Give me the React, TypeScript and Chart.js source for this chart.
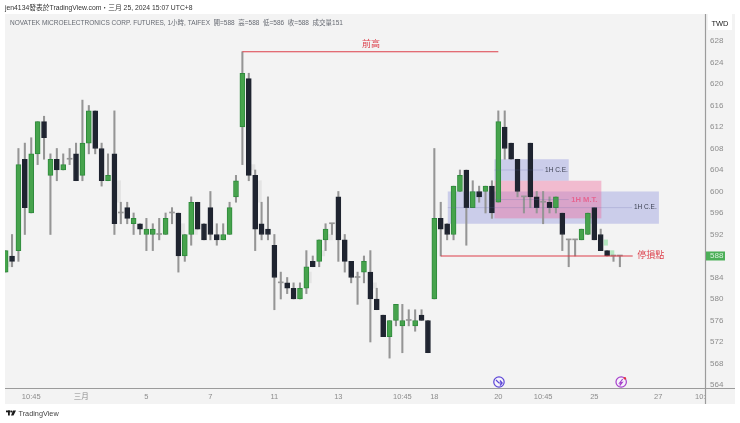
import { useEffect, useRef } from 'react';
import { Chart, registerables } from 'chart.js';

Chart.register(...registerables);

const FONT = "'Liberation Sans', 'Noto Sans CJK TC', sans-serif";

// hourly candles
const opens = [585, 588, 589, 606, 596, 607, 613, 603, 606, 604, 606, 607, 603, 609, 615, 608, 602, 607, 596, 597,
  594, 594, 592, 592, 592, 592, 596, 596, 588, 592, 598, 594, 597, 592, 591, 592, 599, 612, 621, 603,
  594, 593, 590, 583, 583, 582, 580, 582, 587, 587, 591, 594, 599, 591, 587, 584, 585, 585, 580, 577,
  573, 576, 575, 576, 575, 577, 576, 580, 595, 594, 592, 600, 604, 597, 600, 600, 601, 598, 612, 609,
  606, 599, 609, 599, 598, 598, 597, 596, 591, 591, 591, 592, 597, 592, 589, 588, 588];
const highs = [589, 592, 608, 609, 610, 613, 614, 607, 608, 607, 608, 609, 617, 616, 615, 609, 607, 615, 598, 598,
  596, 594, 595, 594, 595, 596, 597, 596, 592, 599, 598, 594, 600, 594, 594, 598, 603, 626, 622, 604,
  598, 599, 592, 585, 584, 583, 583, 589, 588, 591, 594, 594, 600, 592, 587, 585, 588, 589, 582, 577,
  576, 579, 579, 578, 578, 578, 576, 608, 598, 594, 601, 604, 604, 602, 601, 601, 602, 615, 615, 609,
  606, 599, 609, 600, 600, 599, 599, 596, 591, 591, 593, 596, 597, 593, 589, 588, 588];
const lows = [585, 586, 587, 592, 596, 605, 606, 592, 602, 604, 605, 602, 602, 607, 607, 601, 602, 592, 594, 594,
  592, 592, 589, 589, 591, 592, 594, 585, 587, 590, 593, 591, 591, 590, 591, 592, 598, 605, 602, 589,
  591, 591, 578, 580, 581, 580, 580, 581, 586, 586, 589, 592, 587, 585, 583, 579, 583, 572, 578, 573,
  569, 575, 570, 575, 574, 576, 570, 580, 588, 591, 591, 600, 590, 597, 598, 596, 595, 598, 606, 606,
  599, 596, 597, 596, 594, 596, 596, 589, 586, 588, 591, 592, 591, 589, 588, 587, 586];
const closes = [589, 587, 605, 597, 607, 613, 610, 606, 604, 605, 606, 602, 609, 615, 608, 602, 603, 594, 596, 595,
  595, 593, 593, 593, 592, 595, 596, 588, 592, 598, 593, 591, 592, 591, 592, 597, 602, 622, 603, 593,
  592, 592, 584, 583, 582, 580, 582, 586, 586, 591, 593, 594, 591, 587, 584, 584, 587, 580, 578, 573,
  576, 579, 576, 576, 576, 576, 570, 595, 593, 592, 601, 603, 597, 600, 599, 601, 596, 613, 608, 606,
  600, 599, 599, 597, 598, 597, 599, 592, 591, 591, 593, 596, 591, 589, 588, 588, 588];

// faint ghost bars beside some candles
const ghostIndex = [0.7, 17.7, 27.7, 29.7, 38.7, 39.7, 47.5, 49.6, 50.8, 57.7, 93.8, 94.8];
const ghostLow = [586, 598, 592, 592, 604, 598, 583, 588, 591, 582, 590, 588];
const ghostHigh = [587, 602, 594, 593, 605, 602, 585, 589, 592, 583, 591, 589];
const ghostColors = ['#e4e4e4', '#e4e4e4', '#e4e4e4', '#e4e4e4', '#e4e4e4', '#e4e4e4', '#e4e4e4', '#e4e4e4', '#e4e4e4', '#e4e4e4', '#b4e6c0', '#b4e6c0'];

const priceTicks = [628, 624, 620, 616, 612, 608, 604, 600, 596, 592, 588, 584, 580, 576, 572, 568, 564];
const timeTickIndex = [4, 11.8, 22, 32, 42, 52, 62, 67, 77, 84, 92, 102, 109.2];
const timeTickLabels = ['10:45', '三月', '5', '7', '11', '13', '10:45', '18', '20', '10:45', '25', '27', '10:45'];

// price drawings: [from, to, top, bottom]
const blueZones = [[76.4, 88, 606, 602], [69.1, 102.1, 600, 594]];
const pinkZones = [[76.4, 93.1, 602, 595]];
const prevHighLine = [{ x: 37, y: 626 }, { x: 77, y: 626 }];
const stopLine = [{ x: 68, y: 588 }, { x: 98, y: 588 }];
const midLineLower = [{ x: 69.1, y: 597 }, { x: 97.9, y: 597 }];
const midLineUpper = [{ x: 76.4, y: 604 }, { x: 84, y: 604 }];
const midLinePink = [{ x: 76.4, y: 598.5 }, { x: 88, y: 598.5 }];

const GREEN = '#46a34c';
const GREEN_EDGE = '#2f8a3c';
const DARK = '#1f2430';
const WICK = '#959595';
const RED = '#dd3f4a';
const PANEL = '#f3f3f3';

const chromePlugin = {
  id: 'chrome',
  beforeDraw(chart: Chart) {
    const { ctx } = chart;
    ctx.save();
    ctx.fillStyle = '#ffffff';
    ctx.fillRect(0, 0, 740, 423);
    ctx.fillStyle = PANEL;
    ctx.fillRect(5, 14, 730, 390);
    ctx.restore();
  },
  beforeDatasetsDraw(chart: Chart) {
    const { ctx, scales } = chart;
    const x = scales.x;
    const y = scales.y;
    ctx.save();
    ctx.fillStyle = 'rgba(112,118,216,0.30)';
    blueZones.forEach(([a, b, top, bottom]) => {
      ctx.fillRect(x.getPixelForValue(a), y.getPixelForValue(top), x.getPixelForValue(b) - x.getPixelForValue(a), y.getPixelForValue(bottom) - y.getPixelForValue(top));
    });
    ctx.fillStyle = 'rgba(240,96,150,0.38)';
    pinkZones.forEach(([a, b, top, bottom]) => {
      ctx.fillRect(x.getPixelForValue(a), y.getPixelForValue(top), x.getPixelForValue(b) - x.getPixelForValue(a), y.getPixelForValue(bottom) - y.getPixelForValue(top));
    });
    ctx.restore();
  },
  afterDatasetsDraw(chart: Chart) {
    const { ctx, scales } = chart;
    const x = scales.x;
    const y = scales.y;
    ctx.save();
    ctx.textBaseline = 'middle';
    ctx.textAlign = 'center';
    ctx.fillStyle = RED;
    ctx.font = `9px ${FONT}`;
    ctx.fillText('前高', x.getPixelForValue(57.1), y.getPixelForValue(627.3));
    ctx.textAlign = 'left';
    ctx.fillText('停損點', x.getPixelForValue(98.7), y.getPixelForValue(588));

    ctx.font = `6.5px ${FONT}`;
    ctx.fillStyle = '#3a3f4f';
    ctx.fillText('1H C.E.', x.getPixelForValue(84.3), y.getPixelForValue(604));
    ctx.fillText('1H C.E.', x.getPixelForValue(98.2), y.getPixelForValue(597));
    ctx.fillStyle = 'rgba(232,90,135,0.85)';
    ctx.font = `bold 7.6px ${FONT}`;
    ctx.fillText('1H M.T.', x.getPixelForValue(88.4), y.getPixelForValue(598.5));

    // event markers above the time axis
    const drawMarker = (index: number, color: string) => {
      const cx = x.getPixelForValue(index);
      ctx.beginPath();
      ctx.arc(cx, 382, 5.2, 0, Math.PI * 2);
      ctx.fillStyle = '#f6f3fb';
      ctx.fill();
      ctx.strokeStyle = color;
      ctx.lineWidth = 1.2;
      ctx.stroke();
      return cx;
    };
    const c1 = drawMarker(77.1, '#5b45d6');
    ctx.beginPath();
    ctx.moveTo(c1 - 3, 380);
    ctx.lineTo(c1, 383);
    ctx.lineTo(c1 + 3, 383);
    ctx.moveTo(c1 + 1, 380.5);
    ctx.lineTo(c1 + 3.2, 383);
    ctx.lineTo(c1 + 1, 385.5);
    ctx.strokeStyle = '#5b45d6';
    ctx.stroke();
    const c2 = drawMarker(96.2, '#a63fcb');
    ctx.beginPath();
    ctx.moveTo(c2 + 1.5, 379);
    ctx.lineTo(c2 - 1.5, 383);
    ctx.lineTo(c2 + 1, 382.5);
    ctx.lineTo(c2 - 1.5, 385.5);
    ctx.strokeStyle = '#a63fcb';
    ctx.stroke();
    ctx.beginPath();
    ctx.arc(c2 + 3.7, 378.3, 1.2, 0, Math.PI * 2);
    ctx.fillStyle = '#e5333d';
    ctx.fill();
    ctx.restore();
  },
  afterDraw(chart: Chart) {
    const { ctx, scales } = chart;
    const y = scales.y;
    ctx.save();
    // clip the last time label at the price pane
    ctx.fillStyle = PANEL;
    ctx.fillRect(705.5, 389, 29.5, 15);
    ctx.strokeStyle = '#9b9b9b';
    ctx.lineWidth = 1.2;
    ctx.beginPath();
    ctx.moveTo(705.5, 14);
    ctx.lineTo(705.5, 404);
    ctx.moveTo(5, 388.5);
    ctx.lineTo(735, 388.5);
    ctx.stroke();

    ctx.textBaseline = 'middle';
    // current price tag
    const tagY = y.getPixelForValue(closes[closes.length - 1]);
    ctx.fillStyle = '#4caf58';
    ctx.fillRect(706, tagY - 4.5, 19, 9);
    ctx.fillStyle = '#d8f0dc';
    ctx.font = `8px ${FONT}`;
    ctx.textAlign = 'left';
    ctx.fillText(String(closes[closes.length - 1]), 710, tagY + 0.3);

    // currency chip
    ctx.fillStyle = '#ffffff';
    ctx.fillRect(708, 14, 24, 16);
    ctx.fillStyle = '#222222';
    ctx.font = `7.5px ${FONT}`;
    ctx.textAlign = 'center';
    ctx.fillText('TWD', 720, 23.5);

    // header and footer
    ctx.textAlign = 'left';
    ctx.fillStyle = '#333333';
    ctx.font = `6.8px ${FONT}`;
    ctx.fillText('jen4134發表於TradingView.com・三月 25, 2024 15:07 UTC+8', 5, 8.5);
    ctx.fillStyle = '#666a72';
    ctx.font = `6.5px ${FONT}`;
    ctx.fillText('NOVATEK MICROELECTRONICS CORP. FUTURES, 1小時, TAIFEX  開=588  高=588  低=586  收=588  成交量151', 10, 23);

    ctx.fillStyle = '#1a1a1a';
    ctx.fillRect(6, 410.5, 4.5, 1.8);
    ctx.fillRect(8, 410.5, 1.8, 5);
    ctx.beginPath();
    ctx.arc(11.5, 411.5, 1, 0, Math.PI * 2);
    ctx.fill();
    ctx.beginPath();
    ctx.moveTo(13, 410.5);
    ctx.lineTo(16, 410.5);
    ctx.lineTo(13.5, 415.5);
    ctx.lineTo(11, 415.5);
    ctx.fill();
    ctx.fillStyle = '#444444';
    ctx.font = `7.3px ${FONT}`;
    ctx.fillText('TradingView', 18.5, 413.5);
    ctx.restore();
  },
};

const thinLine = (data: { x: number; y: number }[]) => ({
  type: 'line' as const,
  data,
  borderColor: 'rgba(100,104,170,0.28)',
  borderWidth: 0.8,
  pointRadius: 0,
  order: 2,
});

export default function App() {
  const canvasRef = useRef<HTMLCanvasElement | null>(null);

  useEffect(() => {
    if (!canvasRef.current) return;

    const bodyColors = closes.map((c, i) => (c > opens[i] ? GREEN : c < opens[i] ? DARK : WICK));
    const edgeColors = closes.map((c, i) => (c > opens[i] ? GREEN_EDGE : c < opens[i] ? DARK : WICK));
    const edgeWidths = closes.map((c, i) => (c === opens[i] ? 0 : 1));

    const chart = new Chart(canvasRef.current, {
      type: 'bar',
      data: {
        datasets: [
          {
            label: 'ghost',
            data: ghostIndex.map((x, i) => ({ x, y: [ghostLow[i], ghostHigh[i]] })),
            backgroundColor: ghostColors,
            barThickness: 3.5,
            grouped: false,
            order: 5,
          },
          {
            label: 'wick',
            data: highs.map((h, i) => ({ x: i, y: [lows[i], h] })),
            backgroundColor: WICK,
            barThickness: 1.4,
            grouped: false,
            order: 4,
          },
          {
            label: 'body',
            data: opens.map((o, i) => ({ x: i, y: [Math.min(o, closes[i]), Math.max(o, closes[i])] })),
            backgroundColor: bodyColors,
            borderColor: edgeColors,
            borderWidth: edgeWidths,
            borderSkipped: false,
            barThickness: 5,
            minBarLength: 1,
            grouped: false,
            order: 3,
          },
          {
            type: 'line',
            label: '前高',
            data: prevHighLine,
            borderColor: RED,
            borderWidth: 1.2,
            pointRadius: 0,
            order: 1,
          },
          {
            type: 'line',
            label: '停損點',
            data: stopLine,
            borderColor: RED,
            borderWidth: 1.2,
            pointRadius: 0,
            order: 1,
          },
          thinLine(midLineLower),
          thinLine(midLineUpper),
          thinLine(midLinePink),
        ],
      },
      options: {
        responsive: false,
        animation: false,
        events: [],
        layout: { padding: { left: 5, top: 14, right: 5, bottom: 19 } },
        plugins: { legend: { display: false }, tooltip: { enabled: false } },
        scales: {
          x: {
            type: 'linear',
            offset: false,
            min: -0.1,
            max: 109.3,
            grid: { display: false, drawTicks: false },
            border: { display: false },
            afterBuildTicks: (axis) => {
              axis.ticks = timeTickIndex.map((value) => ({ value }));
            },
            afterFit: (axis) => {
              axis.height = 16;
            },
            ticks: {
              autoSkip: false,
              maxRotation: 0,
              padding: 4,
              color: '#8c8c8c',
              font: { family: FONT, size: 7.5 },
              callback: (v) => timeTickLabels[timeTickIndex.indexOf(Number(v))],
            },
          },
          y: {
            position: 'right',
            min: 563.44,
            max: 633.02,
            grid: { display: false, drawTicks: false },
            border: { display: false },
            afterBuildTicks: (axis) => {
              axis.ticks = priceTicks.map((value) => ({ value }));
            },
            afterFit: (axis) => {
              axis.width = 30;
            },
            ticks: {
              padding: 5,
              color: '#8c8c8c',
              font: { family: FONT, size: 8 },
              callback: (v) => (Number(v) === closes[closes.length - 1] ? '' : String(v)),
            },
          },
        },
      },
      plugins: [chromePlugin],
    });

    return () => {
      chart.destroy();
    };
  }, []);

  return (
    <div style={{ position: 'fixed', left: 0, top: 0, width: 740, height: 423 }}>
      <canvas ref={canvasRef} width={740} height={423} aria-label="NOVATEK 1小時 K線圖" />
    </div>
  );
}
